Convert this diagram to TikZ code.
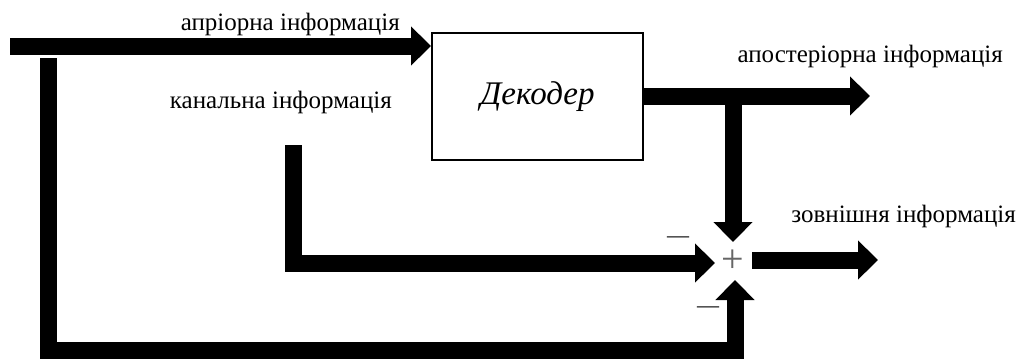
\documentclass[tikz,border=0pt]{standalone}
\usepackage{fontspec}
\setmainfont{Liberation Serif}
\usetikzlibrary{arrows.meta}
\begin{document}
\begin{tikzpicture}[x=1pt,y=-1pt,
  flow/.style={line width=17pt, line join=miter, -{Triangle[length=20pt,width=38pt]}},
  lbl/.style={font=\fontsize{25}{27}\selectfont, inner sep=0pt},
  sign/.style={inner sep=0pt, font=\fontsize{22}{22}\selectfont},
  box/.style={draw, line width=2pt, minimum width=211pt, minimum height=127pt, inner sep=0pt}]
\useasboundingbox (0,0) rectangle (1021,360);
% decoder block
\node[box, font=\fontsize{33}{35}\selectfont\itshape] (dec) at (537.5,96.5) {Декодер};
% summing junction
\coordinate (sum) at (733,261);
\node[inner sep=0pt, text=black!60, font=\fontsize{40}{40}\selectfont] (plus) at (sum) {+};
\node[sign] (m1) at (678,240) {—};
\node[sign] (m2) at (708,310) {—};
% free ends
\coordinate (apin) at (10,46);
\coordinate (fbtop) at (48,58);
\coordinate (chtop) at (293,145);
\coordinate (apost) at (870,96);
\coordinate (ext) at (878,260);
% a priori input
\draw[flow] (apin) -- (dec.west |- apin);
% a priori feedback to summing point
\draw[flow] (fbtop) -- (48,350) -- (735,350) -- (735,280);
% channel information
\draw[flow] (chtop) -- (293,263) -- (715,263);
% a posteriori output and branch
\draw[flow] (dec.east |- apost) -- (apost);
\draw[flow] (733,96) -- (733,242);
% extrinsic output
\draw[flow] (752,260) -- (ext);
% labels
\node[lbl, anchor=base east] (l1) at (400,30) {апріорна інформація};
\node[lbl, anchor=base east] (l2) at (392,108) {канальна інформація};
\node[lbl, anchor=base east] (l3) at (1003,62) {апостеріорна інформація};
\node[lbl, anchor=base east] (l4) at (1016,222) {зовнішня інформація};
\end{tikzpicture}
\end{document}
